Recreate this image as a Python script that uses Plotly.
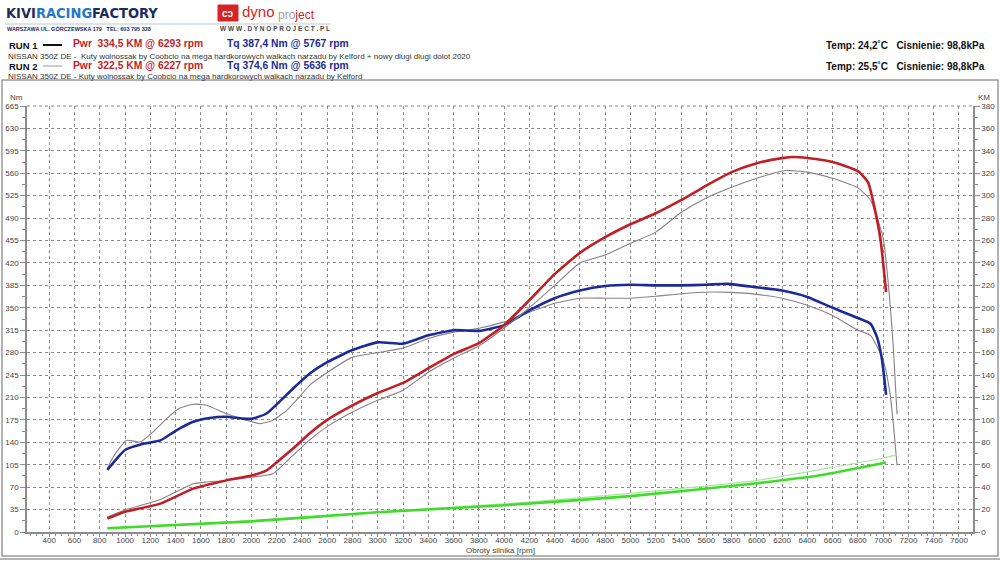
import plotly.graph_objects as go

# ---------------- data ----------------
r1_tq_rpm = [860, 950, 1000, 1150, 1280, 1400, 1540, 1670, 1800, 1930, 2010, 2120, 2220, 2330, 2460, 2600, 2800,
             3000, 3200, 3400, 3600, 3800, 4000, 4200, 4400, 4600, 4800, 5000, 5200, 5400, 5600, 5767, 6000,
             6200, 6400, 6600, 6800, 6900, 6950, 6990, 7023]
r1_tq = [97, 118, 128, 138, 143, 158, 172, 178, 180, 177, 177, 185, 203, 224, 247, 265, 284,
         296, 294, 307, 315, 314, 323, 346, 365, 377, 384, 386, 385, 385, 386, 387.4, 382,
         377, 367, 350, 334, 325, 305, 270, 214]

r1_pw_rpm = [860, 1000, 1280, 1540, 1800, 2010, 2120, 2220, 2330, 2460, 2600, 2800, 3000, 3200, 3400, 3600,
             3800, 4000, 4200, 4400, 4600, 4800, 5000, 5200, 5400, 5600, 5800, 6000, 6200, 6293, 6400, 6600,
             6800, 6880, 6930, 6980, 7023]
r1_pw = [12, 18, 25.3, 38.7, 46, 50.6, 55, 64, 74.4, 87.8, 100, 113, 124, 133, 146, 158.6,
         168.4, 184.5, 206.8, 230, 249, 263, 274.5, 284.3, 296, 309, 321, 329, 333.5, 334.5, 333.6, 330,
         322, 312, 290, 260, 214]

r2_tq_rpm = [860, 906, 1010, 1120, 1220, 1330, 1430, 1540, 1645, 1800, 1960, 2070, 2170, 2280, 2380, 2460,
             2600, 2800, 3000, 3200, 3400, 3600, 3800, 4000, 4200, 4400, 4600, 4800, 5000, 5200, 5400, 5636,
             5800, 6000, 6200, 6400, 6600, 6800, 6900, 7000, 7050, 7080, 7110]
r2_tq = [99, 117, 143, 140.6, 156, 177, 193, 199.5, 198, 185, 174.5, 169, 174.5, 190, 211, 229,
         249, 273, 280, 287, 302, 312, 318, 328, 343, 357, 365, 365, 365, 368, 372, 374.6,
         374, 371, 365, 354, 338, 315, 307, 268, 222, 170, 104]

r2_pw_rpm = [860, 1010, 1280, 1540, 1645, 1800, 2010, 2170, 2330, 2460, 2600, 2800, 3000, 3200, 3400, 3600,
             3800, 4000, 4200, 4400, 4600, 4800, 5000, 5200, 5400, 5600, 5800, 6000, 6227, 6400, 6600, 6800,
             6900, 7000, 7050, 7080, 7110]
r2_pw = [13.4, 20, 29, 43, 44.6, 46, 49, 52, 68.5, 82, 94, 107, 117.5, 126.5, 142.5, 155,
         166, 182, 200, 220, 240, 247, 257.5, 267.5, 285, 298, 307.5, 315.6, 322.5, 321, 315.6, 307,
         296, 262, 210, 165, 105]

r1_loss_rpm = [860, 2000, 3000, 4000, 5000, 6000, 6500, 7023]
r1_loss = [3.3, 9.5, 17.6, 23.8, 32, 43.5, 50.6, 62]
r2_loss_rpm = [860, 2000, 3000, 4000, 5000, 6000, 7000, 7110]
r2_loss = [3.5, 10, 18, 25, 34.5, 46, 66, 69]

x_ticks = list(range(400, 7601, 200))
nm_ticks = list(range(0, 666, 35))
km_ticks = list(range(0, 381, 20))

# ---------------- layout helpers ----------------
W, H = 1000, 562
L, R, T, B = 27, 27, 106, 30
PW, PH = W - L - R, H - T - B


def px(x):
    return (x - L) / PW


def py(y):
    return (H - B - y) / PH


FONT = "Liberation Sans, Arial, sans-serif"
RED = "#c01f26"
BLUE = "#1c2a98"
GREY = "#8a7f86"

fig = go.Figure()

spl = dict(shape="spline", smoothing=0.5)
fig.add_trace(go.Scatter(x=r2_loss_rpm, y=r2_loss, yaxis="y2", mode="lines",
                         line=dict(color="#a9e6a0", width=1.2, **spl)))
fig.add_trace(go.Scatter(x=r1_loss_rpm, y=r1_loss, yaxis="y2", mode="lines",
                         line=dict(color="#3fdc2a", width=2.6, **spl)))
fig.add_trace(go.Scatter(x=r2_tq_rpm, y=r2_tq, mode="lines",
                         line=dict(color=GREY, width=1.1, **spl)))
fig.add_trace(go.Scatter(x=r2_pw_rpm, y=r2_pw, yaxis="y2", mode="lines",
                         line=dict(color=GREY, width=1.1, **spl)))
fig.add_trace(go.Scatter(x=r1_tq_rpm, y=r1_tq, mode="lines",
                         line=dict(color=BLUE, width=2.6, **spl)))
fig.add_trace(go.Scatter(x=r1_pw_rpm, y=r1_pw, yaxis="y2", mode="lines",
                         line=dict(color=RED, width=2.6, **spl)))

axis_common = dict(
    showline=True, linecolor="#8c8c8c", linewidth=1.5,
    ticks="outside", tickcolor="#8c8c8c", tickwidth=1,
    tickfont=dict(family=FONT, size=8, color="#444"),
    zeroline=False, automargin=False, fixedrange=True,
)

fig.update_layout(
    width=W, height=H, autosize=False,
    margin=dict(l=L, r=R, t=T, b=B, pad=0),
    paper_bgcolor="white", plot_bgcolor="white",
    showlegend=False,
    font=dict(family=FONT, color="#333"),
    xaxis=dict(range=[224, 7711], tickvals=x_ticks, ticklen=3, ticklabelstandoff=-3,
               showgrid=True, gridcolor="#8a8a8a", griddash="3px,3px", gridwidth=1,
               minor=dict(dtick=50, tick0=0, ticklen=2, tickcolor="#8c8c8c", ticks="outside", showgrid=False),
               **axis_common),
    yaxis=dict(range=[0, 665], tickvals=nm_ticks, ticklen=5,
               showgrid=True, gridcolor="#8a8a8a", griddash="3px,3px", gridwidth=1,
               minor=dict(dtick=17.5, tick0=0, ticklen=3, tickcolor="#8c8c8c", ticks="outside", showgrid=False),
               **axis_common),
    yaxis2=dict(range=[0, 380], tickvals=km_ticks, ticklen=5, overlaying="y", side="right",
                showgrid=False,
                minor=dict(dtick=10, tick0=0, ticklen=3, tickcolor="#8c8c8c", ticks="outside", showgrid=False),
                **axis_common),
)

shapes = []
ann = []


def text(x, y, s, size, color="#333", bold=False, xanchor="left", family=FONT):
    if bold:
        s = "<b>" + s + "</b>"
    ann.append(dict(x=px(x), y=py(y), xref="paper", yref="paper", text=s, showarrow=False,
                    xanchor=xanchor, yanchor="middle",
                    font=dict(family=family, size=size, color=color)))


def hline(x0, x1, y, color, width):
    shapes.append(dict(type="line", xref="paper", yref="paper", x0=px(x0), x1=px(x1), y0=py(y), y1=py(y),
                       line=dict(color=color, width=width)))


# outer frame
shapes.append(dict(type="rect", xref="paper", yref="paper", x0=px(2), x1=px(998), y0=py(80), y1=py(556),
                   line=dict(color="#9a9a9a", width=1.5), fillcolor="rgba(0,0,0,0)", layer="below"))
hline(0, 1000, 559, "#9a9a9a", 1.5)

# top dashed grid line at 665
shapes.append(dict(type="line", xref="paper", yref="paper", x0=0, x1=1, y0=1, y1=1,
                   line=dict(color="#8a8a8a", width=1, dash="3px,3px")))

# --- logos ---
text(4, 13, "<span style='color:#1b2b5e'>KIVI</span><span style='color:#2677c8'>RACING</span>"
     "<span style='color:#1b2b5e'>FACTORY</span>", 14.5, bold=True,
     family="Liberation Sans Narrow, Arial Narrow, DejaVu Sans Condensed, sans-serif")
hline(5, 330, 24, "#b9c9d6", 1)
text(5, 29, "WARSZAWA UL. GÓRCZEWSKA 179&nbsp;&nbsp;&nbsp;TEL: 603 795 328", 5.5, color="#1b2b5e", bold=True)

shapes.append(dict(type="rect", xref="paper", yref="paper", x0=px(218), x1=px(238), y0=py(5), y1=py(21),
                   line=dict(color="#d42424", width=1), fillcolor="#d42424"))
text(228, 13, "cɔ", 10, color="white", bold=True, xanchor="center")
text(240, 11, "dyno", 15, color="#d42424")
text(276, 15, "<span style='color:#a0a0a0'>pro</span><span style='color:#d42424'>ject</span>", 12)
text(218, 29, "W W W . D Y N O P R O J E C T . P L", 6.5, color="#444", bold=True)

# --- run headers ---
text(7, 45, "RUN 1", 9.5, color="#111", bold=True)
hline(43, 62, 45, "#111", 2)
text(71, 44, "Pwr&nbsp;&nbsp;334,5 KM @ 6293 rpm", 10.3, color=RED, bold=True)
text(225, 44, "Tq 387,4 Nm @ 5767 rpm", 10.3, color=BLUE, bold=True)
text(6, 56, "NISSAN 350Z DE -&nbsp;&nbsp;Kuty wolnossak by Coobcio na mega hardkorowych walkach narzadu by Kelford "
            "+ nowy dlugi dlugi dolot 2020", 8, color="#333")
text(7, 66, "RUN 2", 9.5, color="#111", bold=True)
hline(43, 62, 66, "#9a9a9a", 1)
text(71, 65, "Pwr&nbsp;&nbsp;322,5 KM @ 6227 rpm", 10.3, color=RED, bold=True)
text(225, 65, "Tq 374,6 Nm @ 5636 rpm", 10.3, color=BLUE, bold=True)
text(6, 76, "NISSAN 350Z DE - Kuty wolnossak by Coobcio na mega hardkorowych walkach narzadu by Kelford",
     8, color="#333")

text(987, 45, "Temp: 24,2˚C&nbsp;&nbsp;&nbsp;Cisnienie: 98,8kPa", 10, color="#111", bold=True, xanchor="right")
text(987, 66, "Temp: 25,5˚C&nbsp;&nbsp;&nbsp;Cisnienie: 98,8kPa", 10, color="#111", bold=True, xanchor="right")

# axis titles
text(16, 98, "Nm", 8, color="#444", xanchor="center")
text(984, 98, "KM", 8, color="#444", xanchor="center")
text(500, 550, "Obroty silnika [rpm]", 8, color="#444", xanchor="center")

fig.update_layout(shapes=shapes, annotations=ann)

fig.write_html("out.html")
